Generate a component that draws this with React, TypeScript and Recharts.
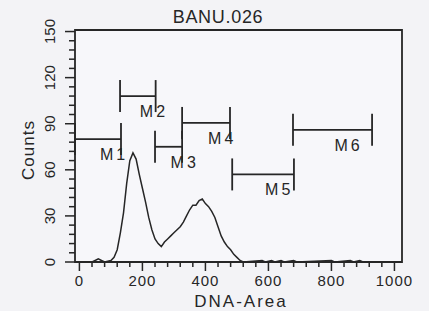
import { LineChart, Line, XAxis, YAxis, ReferenceLine, ReferenceArea } from 'recharts';

// DNA histogram, channel -> counts
const channels = [
  0, 40, 50, 60, 70, 80, 100, 110, 120, 130, 140, 150, 160, 170, 180, 190, 200, 210, 220, 230,
  240, 250, 260, 270, 280, 290, 300, 310, 320, 330, 340, 350, 360, 370, 380, 390, 400, 410, 420,
  430, 440, 450, 460, 470, 480, 490, 500, 510, 520, 580, 590, 610, 620, 640, 650, 680, 690, 800,
  810, 860, 870, 890, 900, 1020,
];
const counts = [
  0, 0, 1, 2, 1, 0, 1, 3, 8, 19, 32, 51, 66, 71, 67, 57, 48, 39, 29, 21,
  15, 12, 10, 13, 15, 17, 19, 21, 23, 26, 30, 34, 37, 37, 40, 41, 38, 36, 33,
  29, 23, 17, 13, 10, 8, 5, 3, 1, 0, 1, 0, 1, 0, 1, 0, 1, 0, 1,
  0, 1, 0, 1, 0, 0,
];

const xTicks = [
  0, 40, 80, 120, 160, 200, 240, 280, 320, 360, 400, 440, 480, 520, 560, 600, 640, 680, 720, 760,
  800, 840, 880, 920, 960, 1000,
];
const xLabels = [0, 200, 400, 600, 800, 1000];
const yTicks = [
  0, 6, 12, 18, 24, 30, 36, 42, 48, 54, 60, 66, 72, 78, 84, 90, 96, 102, 108, 114, 120, 126, 132,
  138, 144, 150,
];
const yLabels = [0, 30, 60, 90, 120, 150];

// region markers
const markerNames = ['M1', 'M2', 'M3', 'M4', 'M5', 'M6'];
const markerStart = [-14, 129, 240, 326, 485, 678];
const markerEnd = [132, 242, 326, 478, 681, 929];
const markerLevel = [80, 108, 75, 90.5, 57, 86];

const data = channels.map((c, i) => ({ channel: c, count: counts[i] }));

const INK = '#262626';
const FONT = '"Liberation Sans", Arial, sans-serif';

const XTick = (props: any) => {
  const { x, y, payload } = props;
  const major = xLabels.includes(payload.value);
  return (
    <g>
      <line x1={x} y1={y} x2={x} y2={y + (major ? 9 : 5)} stroke={INK} strokeWidth={1.5} />
      {major && (
        <text x={x} y={y + 24} textAnchor="middle" fontSize={15} letterSpacing={1} fill={INK} fontFamily={FONT}>
          {payload.value}
        </text>
      )}
    </g>
  );
};

const YTick = (props: any) => {
  const { x, y, payload } = props;
  const major = yLabels.includes(payload.value);
  return (
    <g>
      <line x1={x} y1={y} x2={x - (major ? 10 : 6)} y2={y} stroke={INK} strokeWidth={1.5} />
      {major && (
        <text
          x={55}
          y={y}
          transform={`rotate(-90, 55, ${y})`}
          textAnchor="middle"
          fontSize={15}
          fill={INK}
          fontFamily={FONT}
        >
          {payload.value}
        </text>
      )}
    </g>
  );
};

const markerShape = (name: string) => (p: any) => {
  const { x1, y1, x2, y2 } = p;
  const cap = 16;
  return (
    <g>
      <line x1={x1} y1={y1} x2={x2} y2={y2} stroke={INK} strokeWidth={1.8} />
      <line x1={x1} y1={y1 - cap} x2={x1} y2={y1 + cap} stroke={INK} strokeWidth={1.8} />
      <line x1={x2} y1={y2 - cap} x2={x2} y2={y2 + cap} stroke={INK} strokeWidth={1.8} />
      <text x={(x1 + x2) / 2 + 2} y={y1 + 21} fontSize={16} letterSpacing={3} fill={INK} fontFamily={FONT}>
        {name}
      </text>
    </g>
  );
};

export default function App() {
  return (
    <div style={{ position: 'absolute', left: 0, top: 0, width: 429, height: 311, background: '#f3f3f6' }}>
      <LineChart width={429} height={311} data={data} margin={{ top: 30, right: 27, bottom: 0, left: 0 }}>
        <ReferenceArea x1={-14} x2={1024} y1={0} y2={151} fill="#f7f7fa" fillOpacity={1} stroke={INK} strokeWidth={1.8} ifOverflow="visible" />
        <XAxis
          type="number"
          dataKey="channel"
          domain={[-14, 1024]}
          ticks={xTicks}
          interval={0}
          height={49}
          tickSize={0}
          tickMargin={0}
          tickLine={false}
          axisLine={false}
          tick={XTick}
        />
        <YAxis
          type="number"
          domain={[0, 151]}
          ticks={yTicks}
          interval={0}
          width={75}
          tickSize={0}
          tickMargin={0}
          tickLine={false}
          axisLine={false}
          tick={YTick}
        />
        {markerNames.map((name, i) => (
          <ReferenceLine
            key={name}
            segment={[
              { x: markerStart[i], y: markerLevel[i] },
              { x: markerEnd[i], y: markerLevel[i] },
            ]}
            ifOverflow="visible"
            shape={markerShape(name)}
          />
        ))}
        <Line
          type="linear"
          dataKey="count"
          stroke={INK}
          strokeWidth={1.5}
          dot={false}
          isAnimationActive={false}
        />
        <text x={218} y={23} textAnchor="middle" fontSize={18} letterSpacing={0.7} fill={INK} fontFamily={FONT}>
          BANU.026
        </text>
        <text
          x={34}
          y={150}
          transform="rotate(-90, 34, 150)"
          textAnchor="middle"
          fontSize={17}
          letterSpacing={1}
          fill={INK}
          fontFamily={FONT}
        >
          Counts
        </text>
        <text x={241} y={307} textAnchor="middle" fontSize={17} letterSpacing={2} fill={INK} fontFamily={FONT}>
          DNA-Area
        </text>
      </LineChart>
    </div>
  );
}
